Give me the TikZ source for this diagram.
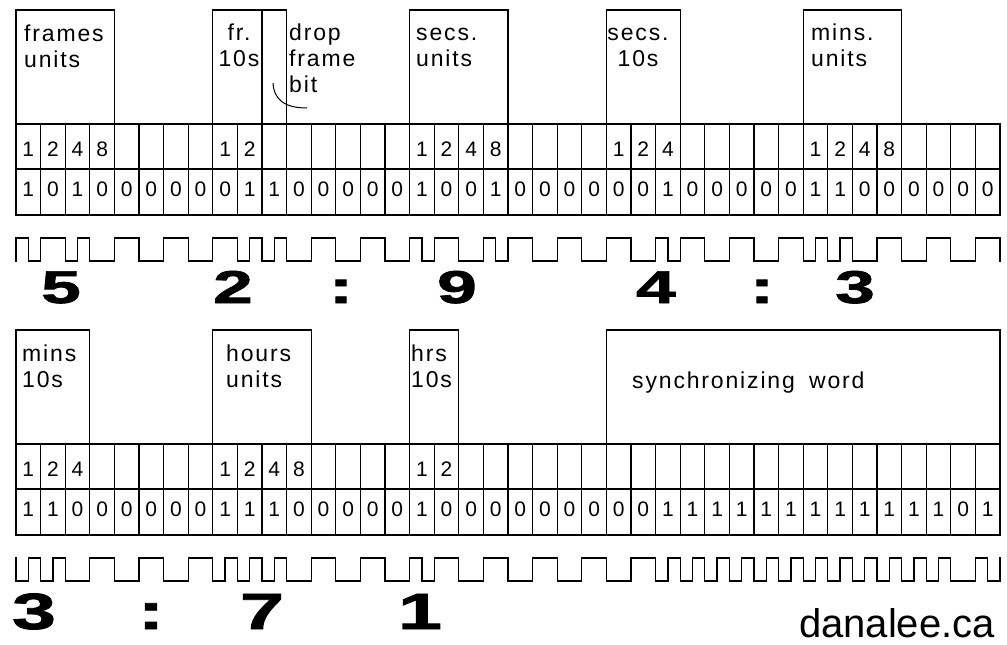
\documentclass[tikz,border=0pt]{standalone}
\usepackage{fontspec}
\setmainfont{Liberation Sans}
\newfontfamily\labelfont[LetterSpace=8]{Liberation Sans}
\newfontfamily\bigdigits{Liberation Sans}[BoldFeatures={FakeBold=1.5}]
\def\bitsA{1,0,1,0,0,0,0,0,0,1,1,0,0,0,0,0,1,0,0,1,0,0,0,0,0,0,1,0,0,0,0,0,1,1,0,0,0,0,0,0}
\def\bitsB{1,1,0,0,0,0,0,0,1,1,1,0,0,0,0,0,1,0,0,0,0,0,0,0,0,0,1,1,1,1,1,1,1,1,1,1,1,1,0,1}
\newcommand\widedigit[1]{\scalebox{1.55}[1]{#1}}
% biphase mark line for one row of 40 bits: #1 bits, #2 top of the line
\newcommand\timecodewave[2]{%
  \foreach \b [count=\i from 0] in #1 {
    \pgfmathsetmacro\xa{16+\i*24.6}
    \pgfmathsetmacro\xm{\xa+12.3}
    \pgfmathsetmacro\xb{\xa+24.6}
    \pgfmathsetmacro\ya{\lvl==1 ? #2 : #2+23}
    \pgfmathsetmacro\yb{\lvl==1 ? #2+23 : #2}
    \ifnum\b=1
      \draw[wave] (\xa,\ya) -- (\xa,\yb) -- (\xm,\yb) -- (\xm,\ya) -- (\xb,\ya);
    \else
      \draw[wave] (\xa,\ya) -- (\xa,\yb) -- (\xb,\yb);
      \pgfmathtruncatemacro\nl{1-\lvl}\xdef\lvl{\nl}
    \fi
  }
  \pgfmathsetmacro\ya{\lvl==1 ? #2 : #2+23}
  \pgfmathsetmacro\yb{\lvl==1 ? #2+23 : #2}
  \draw[wave] (1000,\ya) -- (1000,\yb);
}
\tikzset{
  cell/.style={line width=1.2pt},
  wave/.style={line width=1.3pt, line cap=rect},
  field/.style={anchor=north west, inner sep=0pt, align=left,
    font=\labelfont\fontsize{23}{26}\selectfont},
  bitnum/.style={inner sep=0pt, font=\fontsize{21}{21}\selectfont},
  tcdigit/.style={anchor=base, inner sep=0pt,
    font=\bigdigits\bfseries\fontsize{46}{46}\selectfont},
}
\begin{document}
\begin{tikzpicture}[x=1pt, y=-1pt]
  \useasboundingbox (0,0) rectangle (1007,645);
  \xdef\lvl{0}
  % bit grids
  \foreach \yt in {124, 444} {
    \draw[cell] (16,\yt) rectangle (1000,\yt+91);
    \draw[cell] (16,\yt+45) -- (1000,\yt+45);
    \foreach \i in {1,...,39}
      \draw[cell] ({16+\i*24.6},\yt) -- ++(0,91);
  }
  % field boxes
  \foreach \a/\b/\yt in {0/4/124, 8/10/124, 10/11/124, 16/20/124, 24/27/124, 32/36/124,
                         0/3/444, 8/12/444, 16/18/444, 24/40/444}
    \draw[cell] ({16+\a*24.6},\yt) rectangle ({16+\b*24.6},\yt-114);
  % field names
  \node[field] (frunits) at (24,41-18.2) {\strut frames\\units};
  \node[field, anchor=north, align=center] (frtens) at (239,40-18.2) {\strut fr.\\10s};
  \node[field] (dropbit) at (289,40-18.2) {\strut drop\\frame\\bit};
  \node[field] (secunits) at (416,40-18.2) {\strut secs.\\units};
  \node[field, anchor=north, align=center] (sectens) at (638,40-18.2) {\strut secs.\\10s};
  \node[field] (minunits) at (811,40-18.2) {\strut mins.\\units};
  \node[field] (mintens) at (22,361-18.2) {\strut mins\\10s};
  \node[field] (hrunits) at (226,361-18.2) {\strut hours\\units};
  \node[field] (hrtens) at (411,361-18.2) {\strut hrs\\10s};
  \node[field] (syncword) at (632,388-18.2) {\strut synchronizing\hspace{6pt} word};
  \coordinate (dfa) at (273,83);
  \coordinate (dfb) at (307,108);
  \draw[line width=1pt] (dfa) .. controls (274,100) and (285,108) .. (dfb);
  % bit weights
  \foreach \c/\w in {0/1,1/2,2/4,3/8, 8/1,9/2, 16/1,17/2,18/4,19/8, 24/1,25/2,26/4, 32/1,33/2,34/4,35/8}
    \node[bitnum] (wa-\c) at ({16+(\c+0.5)*24.6},149.5) {\w};
  \foreach \c/\w in {0/1,1/2,2/4, 8/1,9/2,10/4,11/8, 16/1,17/2}
    \node[bitnum] (wb-\c) at ({16+(\c+0.5)*24.6},469.5) {\w};
  % bit values
  \foreach \b [count=\c from 0] in \bitsA
    \node[bitnum] (ba-\c) at ({16+(\c+0.5)*24.6},189.5) {\b};
  \foreach \b [count=\c from 0] in \bitsB
    \node[bitnum] (bb-\c) at ({16+(\c+0.5)*24.6},509.5) {\b};
  % the signal
  \timecodewave{\bitsA}{238}
  \timecodewave{\bitsB}{558}
  % time read from the word
  \node[tcdigit] (fru) at (61,303) {\widedigit{5}};
  \node[tcdigit] (frt) at (233,303) {\widedigit{2}};
  \node[tcdigit] (colA) at (341,303) {\widedigit{:}};
  \node[tcdigit] (secu) at (457,303) {\widedigit{9}};
  \node[tcdigit] (sect) at (656,303) {\widedigit{4}};
  \node[tcdigit] (colB) at (762,303) {\widedigit{:}};
  \node[tcdigit] (minu) at (855,303) {\widedigit{3}};
  \begin{scope}[tcdigit/.append style={font=\bigdigits\bfseries\fontsize{51}{51}\selectfont}]
    \node[tcdigit] (mint) at (34,629) {\widedigit{3}};
    \node[tcdigit] (colC) at (151,629) {\widedigit{:}};
    \node[tcdigit] (hru) at (262,629) {\widedigit{7}};
    \node[tcdigit] (hrt) at (420,629) {\widedigit{1}};
  \end{scope}
  \node[anchor=base east, inner sep=0pt, font=\fontsize{40}{40}\selectfont] (site) at (995,637) {danalee.ca};
\end{tikzpicture}
\end{document}
